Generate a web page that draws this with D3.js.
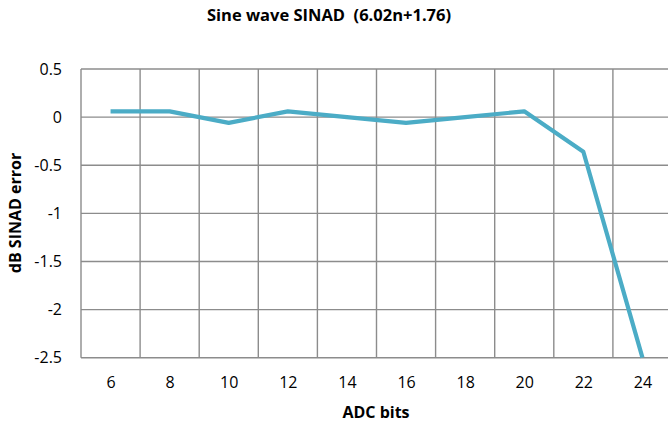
<!DOCTYPE html>
<html><head><meta charset="utf-8">
<script src="https://cdn.jsdelivr.net/npm/d3@7/dist/d3.min.js"></script>
<style>body{margin:0;background:#fff}svg{display:block}text{font-family:"Open Sans",sans-serif;fill:#000}</style>
</head><body><svg id="c" width="668" height="426"></svg>
<script>
const bits = [6, 8, 10, 12, 14, 16, 18, 20, 22, 24];
const sinadError = [0.06, 0.06, -0.06, 0.06, 0.0, -0.06, 0.0, 0.06, -0.36, -2.5];
const xTicks = [6, 8, 10, 12, 14, 16, 18, 20, 22, 24];
const xGrid = [5, 7, 9, 11, 13, 15, 17, 19, 21, 23, 25];
const yTicks = [0.5, 0, -0.5, -1, -1.5, -2, -2.5];
const title = "Sine wave SINAD  (6.02n+1.76)";
const xTitle = "ADC bits";
const yTitle = "dB SINAD error";

const svg = d3.select("#c");
const x = d3.scaleLinear().domain([5, 25]).range([81, 672]);
const y = d3.scaleLinear().domain([-2.5, 0.5]).range([357.7, 69]);

const g = svg.append("g");
g.selectAll(".hg").data(yTicks).join("line")
  .attr("x1", x(5)).attr("x2", x(25)).attr("y1", d => y(d)).attr("y2", d => y(d))
  .attr("stroke", "#8c8c8c").attr("stroke-width", 1.4);
g.selectAll(".vg").data(xGrid).join("line")
  .attr("x1", d => x(d)).attr("x2", d => x(d)).attr("y1", y(0.5)).attr("y2", y(-2.5))
  .attr("stroke", "#8c8c8c").attr("stroke-width", 1.4);

const yAxis = d3.axisLeft(y).tickValues(yTicks).tickSize(0).tickPadding(19).tickFormat(d => String(d));
const ya = svg.append("g").attr("transform", `translate(${x(5)},0)`).call(yAxis);
ya.select(".domain").remove();
ya.selectAll("text").style("font-size", "16px").style("font-family", "'Open Sans',sans-serif").attr("fill", "#000");

const xAxis = d3.axisBottom(x).tickValues(xTicks).tickSize(0).tickPadding(19);
const xa = svg.append("g").attr("transform", `translate(0,${y(-2.5)})`).call(xAxis);
xa.select(".domain").remove();
xa.selectAll("text").style("font-size", "16px").style("font-family", "'Open Sans',sans-serif").attr("fill", "#000");

const line = d3.line().x((d, i) => x(bits[i])).y(d => y(d));
svg.append("path").datum(sinadError).attr("d", line)
  .attr("fill", "none").attr("stroke", "#4bacc6").attr("stroke-width", 4.2)
  .attr("stroke-linejoin", "round").attr("stroke-linecap", "butt");

svg.append("text").attr("x", 329).attr("y", 21).attr("text-anchor", "middle")
  .style("white-space", "pre").attr("xml:space", "preserve")
  .style("font-weight", "bold").style("font-size", "16.5px").text(title);
svg.append("text").attr("x", 376).attr("y", 418).attr("text-anchor", "middle")
  .style("font-weight", "bold").style("font-size", "16px").text(xTitle);
svg.append("text").attr("transform", "translate(21,213) rotate(-90)").attr("text-anchor", "middle")
  .style("font-weight", "bold").style("font-size", "16px").text(yTitle);
</script></body></html>
